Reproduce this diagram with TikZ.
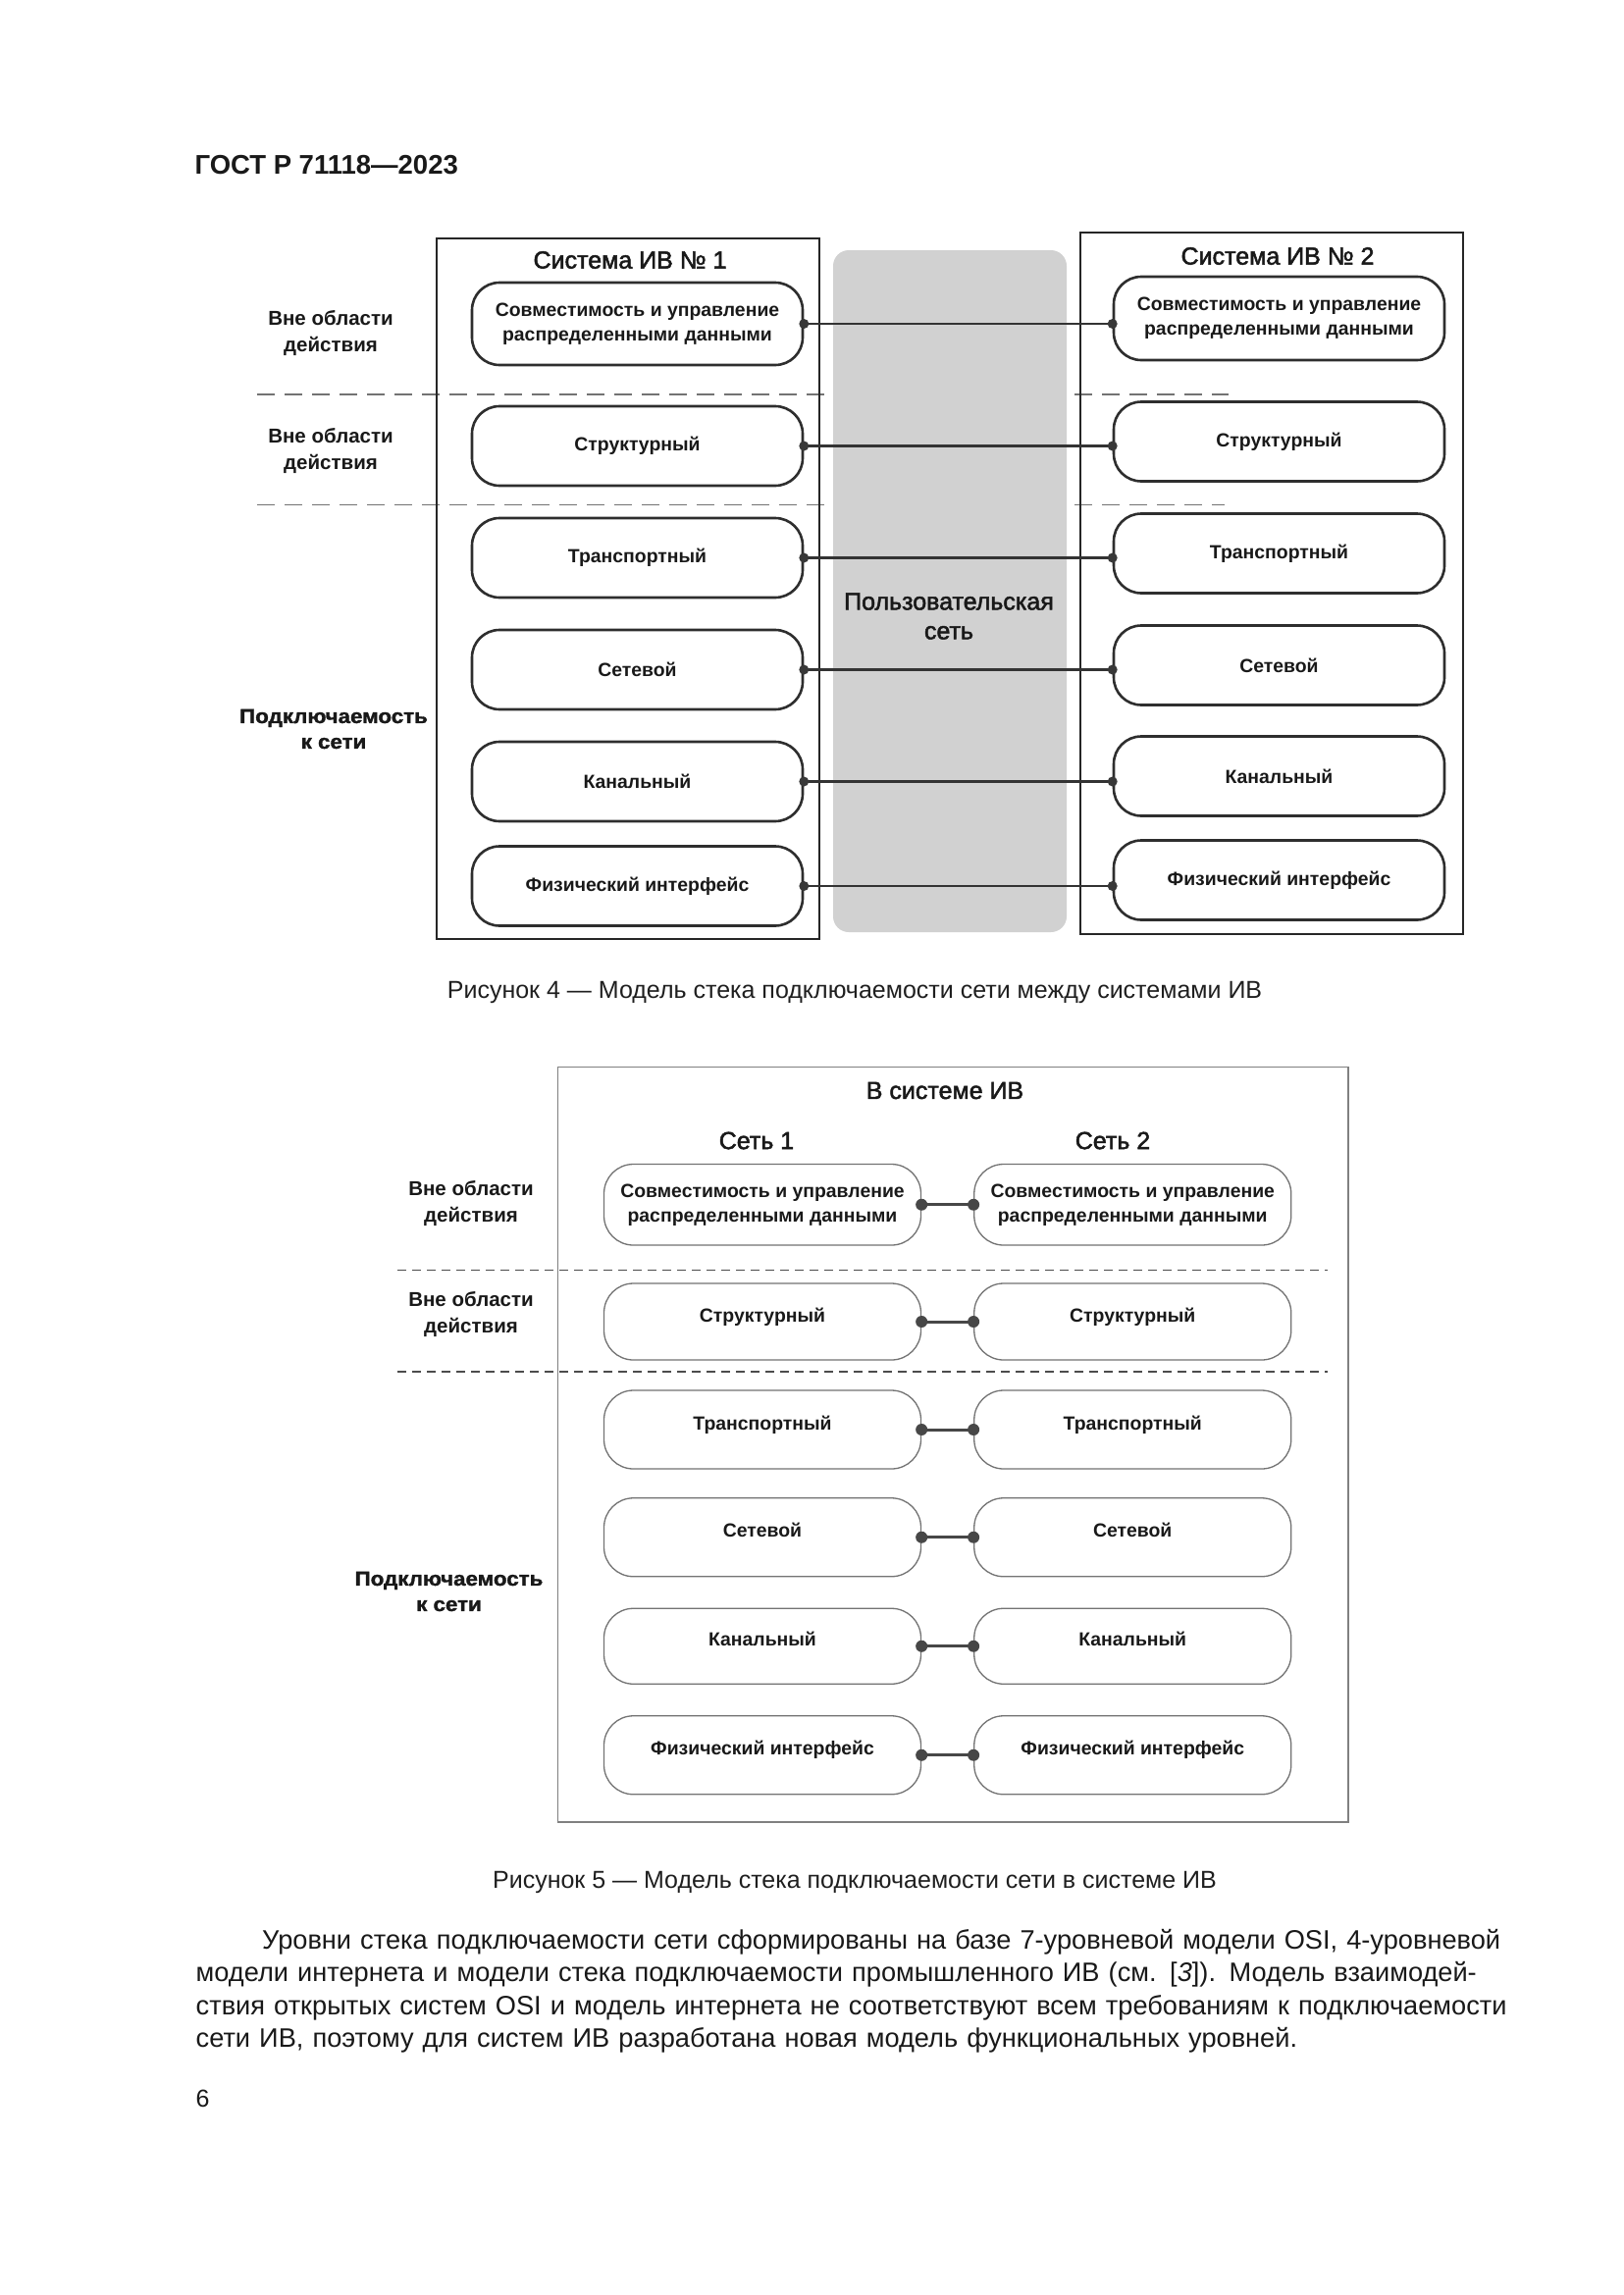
\documentclass[tikz,border=0pt]{standalone}
\usepackage{fontspec}
\setmainfont{Liberation Sans}
\newfontfamily\medfont[FakeBold=2]{Liberation Sans}
\newfontfamily\heavyfont[FakeBold=1.5, FakeStretch=1.09]{Liberation Sans Bold}
\begin{document}
\begin{tikzpicture}[x=1pt,y=-1pt,
  frame4/.style={draw=black!85, line width=2.6pt, inner sep=0pt},
  frame5/.style={draw=black!50, line width=1.3pt, inner sep=0pt},
  lay4/.style={draw=black!82, line width=2.6pt, rounded corners=28pt, minimum width=337pt, inner sep=0pt, align=center, fill=white, text=black!90, font=\fontsize{19.4}{25}\selectfont\bfseries},
  lay5/.style={draw=black!55, line width=1.3pt, rounded corners=30pt, minimum width=323pt, inner sep=0pt, align=center, fill=white, text=black!90, font=\fontsize{19.4}{25}\selectfont\bfseries},
  conn4/.style={draw=black!80, line width=2.6pt},
  conn5/.style={draw=black!72, line width=3pt},
  side/.style={align=center, text=black!90, font=\fontsize{20.5}{27}\selectfont\bfseries},
  sideheavy/.style={align=center, text=black!90, font=\fontsize{20.5}{26}\heavyfont},
  ttl/.style={align=center, text=black!90, font=\fontsize{25}{30}\medfont},
  capt/.style={text=black!88, font=\fontsize{25}{30}\selectfont},
  sep4/.style={draw=black!55, line width=1.8pt, dash pattern=on 18pt off 10pt},
  sep5/.style={draw=black!70, line width=1.4pt, dash pattern=on 9pt off 6pt},
  netblock/.style={fill=black!18, rounded corners=16pt, inner sep=0pt}
]
\useasboundingbox[fill=white] (0,0) rectangle (1654,2339);

% header
\node[anchor=west, text=black!90, font=\fontsize{27.5}{32}\selectfont\bfseries] (hdr) at (195,168) {ГОСТ Р 71118—2023};

% ---------------- Figure 4 ----------------
\coordinate (d1a) at (262,402);   \coordinate (d1b) at (849,402);
\coordinate (d2a) at (262,514.5); \coordinate (d2b) at (849,514.5);
\coordinate (d3a) at (1095,402);  \coordinate (d3b) at (1252,402);
\coordinate (d4a) at (1095,514.5);\coordinate (d4b) at (1248,514.5);
\draw[sep4] (d1a) -- (d1b);
\draw[sep4] (d2a) -- (d2b);
\draw[sep4] (d3a) -- (d3b);
\draw[sep4] (d4a) -- (d4b);

\node[frame4, minimum width=390pt, minimum height=714pt] (S1) at (640,600) {};
\node[frame4, minimum width=390pt, minimum height=715pt] (S2) at (1296,594.5) {};
\node[netblock, minimum width=238pt, minimum height=695pt] (UN) at (968,602.5) {};
\node[ttl] (unt) at (967,628) {Пользовательская\\сеть};

\node[ttl] (t1) at (642,265) {Система ИВ № 1};
\node[ttl] (t2) at (1302,261) {Система ИВ № 2};

\node[side] (s41) at (337,340) {Вне области\\действия};
\node[side] (s42) at (337,460) {Вне области\\действия};
\node[sideheavy] (s43) at (340,743) {Подключаемость\\к сети};

\node[lay4, minimum height=84pt] (L1) at (649.5,330) {Совместимость и управление\\распределенными данными};
\node[lay4, minimum height=81pt] (L2) at (649.5,454.5) {Структурный};
\node[lay4, minimum height=81pt] (L3) at (649.5,568.5) {Транспортный};
\node[lay4, minimum height=81pt] (L4) at (649.5,682.5) {Сетевой};
\node[lay4, minimum height=81pt] (L5) at (649.5,796.5) {Канальный};
\node[lay4, minimum height=81pt] (L6) at (649.5,903) {Физический интерфейс};

\node[lay4, minimum height=85pt] (R1) at (1303.5,324.5) {Совместимость и управление\\распределенными данными};
\node[lay4, minimum height=81pt] (R2) at (1303.5,450) {Структурный};
\node[lay4, minimum height=81pt] (R3) at (1303.5,564) {Транспортный};
\node[lay4, minimum height=81pt] (R4) at (1303.5,678) {Сетевой};
\node[lay4, minimum height=81pt] (R5) at (1303.5,791) {Канальный};
\node[lay4, minimum height=81pt] (R6) at (1303.5,897) {Физический интерфейс};

\foreach \i in {1,...,6}{
  \draw[conn4] (L\i.east) -- (L\i.east -| R\i.west);
  \fill[black!78] (L\i.east) circle (5pt);
  \fill[black!78] (L\i.east -| R\i.west) circle (5pt);
}

\node[capt] (cap4) at (871,1011) {Рисунок 4 — Модель стека подключаемости сети между системами ИВ};

% ---------------- Figure 5 ----------------
\node[frame5, minimum width=805.5pt, minimum height=769.5pt] (F5) at (971.25,1472.25) {};
\coordinate (e1a) at (405,1294.5); \coordinate (e1b) at (1353,1294.5);
\coordinate (e2a) at (405,1398);   \coordinate (e2b) at (1353,1398);
\draw[sep5] (e1a) -- (e1b);
\draw[sep5] (e2a) -- (e2b);

\node[ttl] (t5) at (963,1111.5) {В системе ИВ};
\node[ttl] (n1) at (771,1162.5) {Сеть 1};
\node[ttl] (n2) at (1134,1162.5) {Сеть 2};

\node[side] (s51) at (480,1227) {Вне области\\действия};
\node[side] (s52) at (480,1339.5) {Вне области\\действия};
\node[sideheavy] (s53) at (457.5,1622) {Подключаемость\\к сети};

\node[lay5, minimum height=82.5pt] (A1) at (777,1227.75) {Совместимость и управление\\распределенными данными};
\node[lay5, minimum height=78pt, text depth=14pt] (A2) at (777,1347) {Структурный};
\node[lay5, minimum height=80pt, text depth=14pt] (A3) at (777,1457) {Транспортный};
\node[lay5, minimum height=80pt, text depth=14pt] (A4) at (777,1566.75) {Сетевой};
\node[lay5, minimum height=77pt, text depth=14pt] (A5) at (777,1677.75) {Канальный};
\node[lay5, minimum height=80pt, text depth=14pt] (A6) at (777,1788.75) {Физический интерфейс};

\node[lay5, minimum height=82.5pt] (B1) at (1154.25,1227.75) {Совместимость и управление\\распределенными данными};
\node[lay5, minimum height=78pt, text depth=14pt] (B2) at (1154.25,1347) {Структурный};
\node[lay5, minimum height=80pt, text depth=14pt] (B3) at (1154.25,1457) {Транспортный};
\node[lay5, minimum height=80pt, text depth=14pt] (B4) at (1154.25,1566.75) {Сетевой};
\node[lay5, minimum height=77pt, text depth=14pt] (B5) at (1154.25,1677.75) {Канальный};
\node[lay5, minimum height=80pt, text depth=14pt] (B6) at (1154.25,1788.75) {Физический интерфейс};

\foreach \i in {1,...,6}{
  \draw[conn5] (A\i.east) -- (B\i.west);
  \fill[black!72] (A\i.east) circle (6pt);
  \fill[black!72] (B\i.west) circle (6pt);
}

\node[capt] (cap5) at (871,1918.5) {Рисунок 5 — Модель стека подключаемости сети в системе ИВ};

% ---------------- Text ----------------
\node[anchor=north west, inner sep=0pt, text width=1345.5pt, text=black!90, font=\fontsize{27.2}{33.5}\selectfont] (para) at (199.5,1966) {\parindent=67.5pt\indent Уровни стека подключаемости сети сформированы на базе 7-уровневой модели OSI, 4-уровневой\linebreak модели интернета и модели стека подключаемости промышленного ИВ (см. [\textit{3}]). Модель взаимодей-\linebreak ствия открытых систем OSI и модель интернета не соответствуют всем требованиям к подключаемости\linebreak сети ИВ, поэтому для систем ИВ разработана новая модель функциональных уровней.};

\node[anchor=west, text=black!90, font=\fontsize{25}{30}\selectfont] (pg) at (196,2139) {6};
\end{tikzpicture}
\end{document}
